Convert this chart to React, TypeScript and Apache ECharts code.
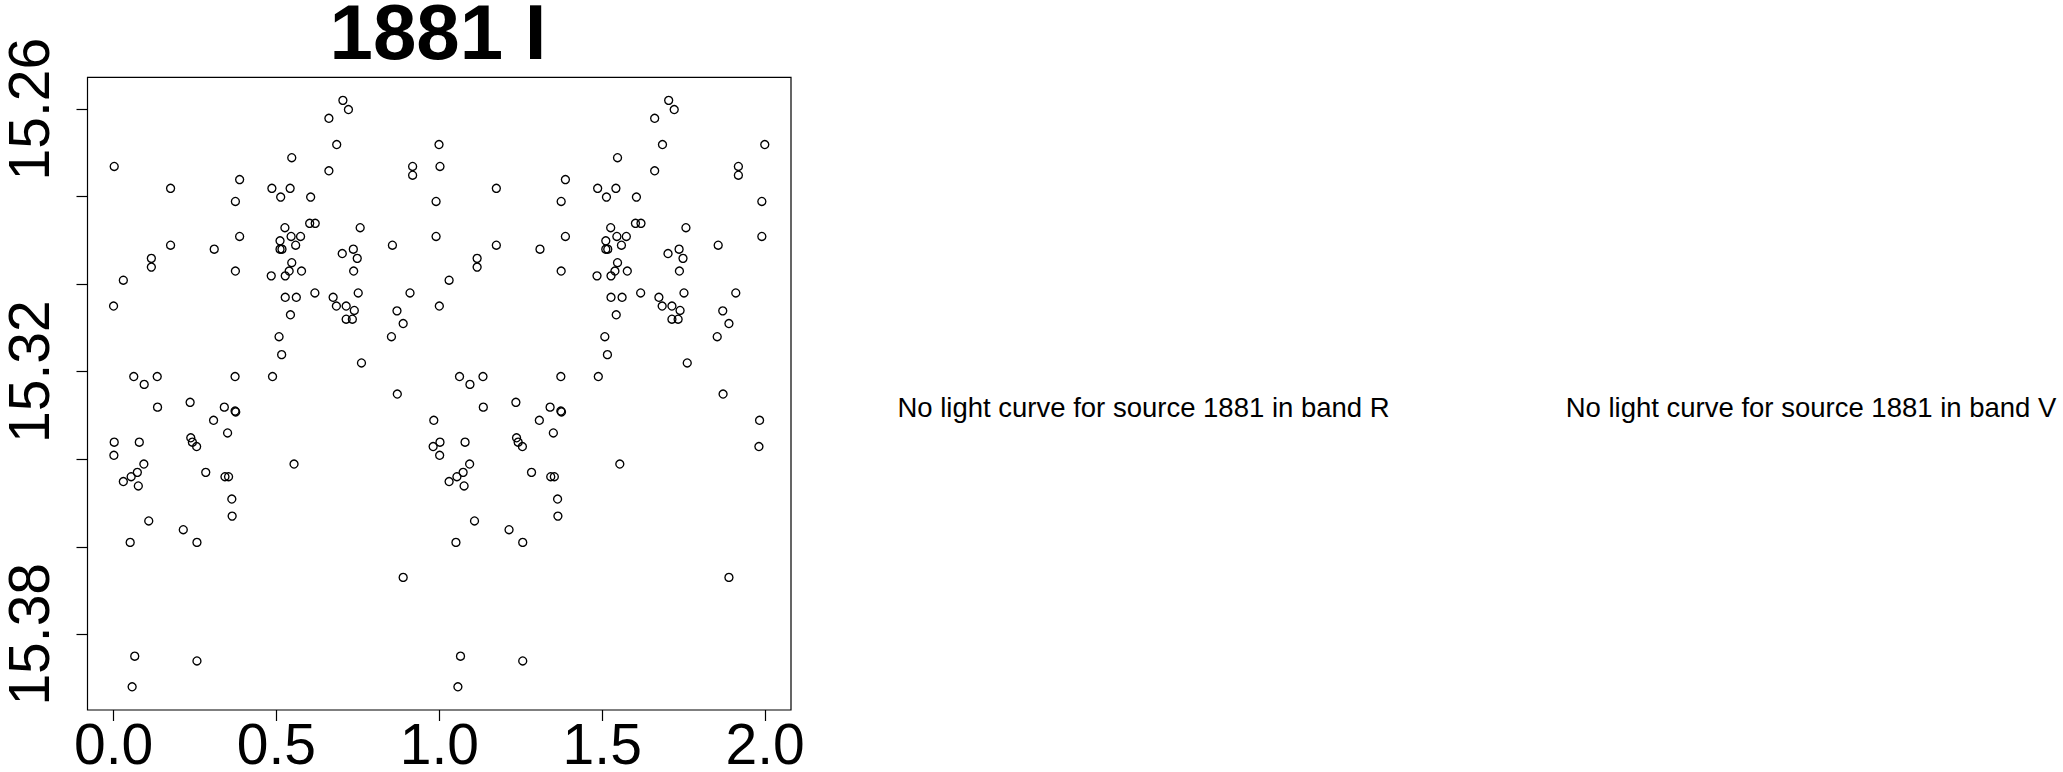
import React, { useEffect, useRef } from "react";
import * as echarts from "echarts";

const phase = [
  0.002, 0.175, 0.387, 0.374, 0.387, 0.175, 0.309, 0.116, 0.116, 0.030,
  0.374, 0.000, 0.547, 0.486, 0.542, 0.513, 0.605, 0.661, 0.704, 0.721,
  0.685, 0.661, 0.918, 0.918, 0.999, 0.990, 0.990, 0.602, 0.619, 0.526,
  0.545, 0.574, 0.511, 0.559, 0.511, 0.517, 0.757, 0.856, 0.702, 0.736,
  0.748, 0.547, 0.539, 0.577, 0.484, 0.527, 0.737, 0.618, 0.751, 0.910,
  0.527, 0.561, 0.674, 0.684, 0.714, 0.739, 0.714, 0.733, 0.543, 0.870,
  0.889, 0.853, 0.508, 0.516, 0.761, 0.062, 0.134, 0.094, 0.373, 0.488,
  0.871, 0.135, 0.235, 0.340, 0.373, 0.375, 0.307, 0.350, 0.983, 0.002,
  0.079, 0.001, 0.237, 0.242, 0.255, 0.981, 0.093, 0.073, 0.054, 0.030,
  0.076, 0.283, 0.342, 0.353, 0.554, 0.363, 0.364, 0.108, 0.214, 0.051,
  0.256, 0.889, 0.065, 0.256, 0.057,
];
const mag = [
  15.2731, 15.2781, 15.2761, 15.2811, 15.2891, 15.2911, 15.2920, 15.2941, 15.2961, 15.2991,
  15.2970, 15.3050, 15.2711, 15.2781, 15.2781, 15.2801, 15.2801, 15.2621, 15.2580, 15.2601,
  15.2681, 15.2741, 15.2731, 15.2751, 15.2681, 15.2811, 15.2891, 15.2861, 15.2861, 15.2871,
  15.2891, 15.2891, 15.2901, 15.2911, 15.2920, 15.2920, 15.2871, 15.2911, 15.2930, 15.2920,
  15.2941, 15.2951, 15.2970, 15.2970, 15.2981, 15.2981, 15.2970, 15.3020, 15.3020, 15.3020,
  15.3030, 15.3030, 15.3030, 15.3050, 15.3050, 15.3060, 15.3080, 15.3080, 15.3070, 15.3061,
  15.3090, 15.3120, 15.3120, 15.3161, 15.3180, 15.3211, 15.3211, 15.3229, 15.3211, 15.3211,
  15.3251, 15.3281, 15.3270, 15.3281, 15.3290, 15.3292, 15.3311, 15.3340, 15.3311, 15.3361,
  15.3361, 15.3391, 15.3351, 15.3361, 15.3371, 15.3371, 15.3411, 15.3430, 15.3440, 15.3451,
  15.3461, 15.3430, 15.3440, 15.3440, 15.3411, 15.3491, 15.3530, 15.3541, 15.3561, 15.3590,
  15.3590, 15.3670, 15.3850, 15.3861, 15.3920,
];

const xTicks = [0, 0.5, 1, 1.5, 2];
const yTicks = [15.26, 15.28, 15.3, 15.32, 15.34, 15.36, 15.38];
const yLabels = [15.26, 15.32, 15.38];
const titleText = "1881 I";
const notes = [
  "No light curve for source 1881 in band R",
  "No light curve for source 1881 in band V",
];

const FONT = "'Liberation Sans', Arial, Helvetica, sans-serif";

export default function App() {
  const ref = useRef<HTMLDivElement>(null);

  useEffect(() => {
    document.body.style.margin = "0";
    if (!ref.current) return;
    const chart = echarts.init(ref.current, undefined, { renderer: "svg" });

    const points: number[][] = [];
    phase.forEach((p, i) => points.push([p, mag[i]]));
    phase.forEach((p, i) => points.push([p + 1, mag[i]]));

    chart.setOption({
      animation: false,
      backgroundColor: "#ffffff",
      grid: {
        left: 84.5,
        top: 77.3,
        width: 706.5,
        height: 636,
        show: true,
        borderColor: "#000",
        borderWidth: 1.2,
        backgroundColor: "transparent",
      },
      xAxis: {
        type: "value",
        min: -0.08,
        max: 2.0795,
        axisLine: { show: false, onZero: false },
        splitLine: { show: false },
        axisTick: {
          show: true,
          inside: false,
          length: 11,
          lineStyle: { color: "#000", width: 1.2 },
          customValues: xTicks,
        },
        axisLabel: {
          show: true,
          margin: 5,
          fontSize: 57,
          lineHeight: 57,
          fontFamily: FONT,
          color: "#000",
          customValues: xTicks,
          formatter: (v: number) => v.toFixed(1),
        },
      },
      yAxis: {
        type: "value",
        inverse: true,
        min: 15.25273,
        max: 15.3973,
        axisLine: { show: false, onZero: false },
        splitLine: { show: false },
        axisTick: {
          show: true,
          inside: false,
          length: 11,
          lineStyle: { color: "#000", width: 1.2 },
          customValues: yTicks,
        },
        axisLabel: {
          show: true,
          rotate: 90,
          margin: 30.5,
          fontSize: 57,
          lineHeight: 57,
          fontFamily: FONT,
          color: "#000",
          customValues: yLabels,
          formatter: (v: number) => v.toFixed(2),
        },
      },
      series: [
        {
          type: "scatter",
          data: points,
          symbol: "circle",
          symbolSize: 8,
          itemStyle: {
            color: "rgba(0,0,0,0)",
            borderColor: "#000",
            borderWidth: 1.35,
            opacity: 1,
          },
          emphasis: { disabled: true },
        },
      ],
      graphic: [
        {
          type: "text",
          x: 438,
          y: 31.7,
          style: {
            text: titleText,
            fontSize: 78,
            fontWeight: "bold",
            fontFamily: FONT,
            fill: "#000",
            align: "center",
            verticalAlign: "middle",
          },
        },
        {
          type: "text",
          x: 1143.5,
          y: 407.3,
          style: {
            text: notes[0],
            fontSize: 27.5,
            fontFamily: FONT,
            fill: "#000",
            align: "center",
            verticalAlign: "middle",
          },
        },
        {
          type: "text",
          x: 1811,
          y: 407.3,
          style: {
            text: notes[1],
            fontSize: 27.5,
            fontFamily: FONT,
            fill: "#000",
            align: "center",
            verticalAlign: "middle",
          },
        },
      ],
    });

    return () => {
      chart.dispose();
    };
  }, []);

  return <div ref={ref} style={{ width: 2063, height: 772 }} />;
}
